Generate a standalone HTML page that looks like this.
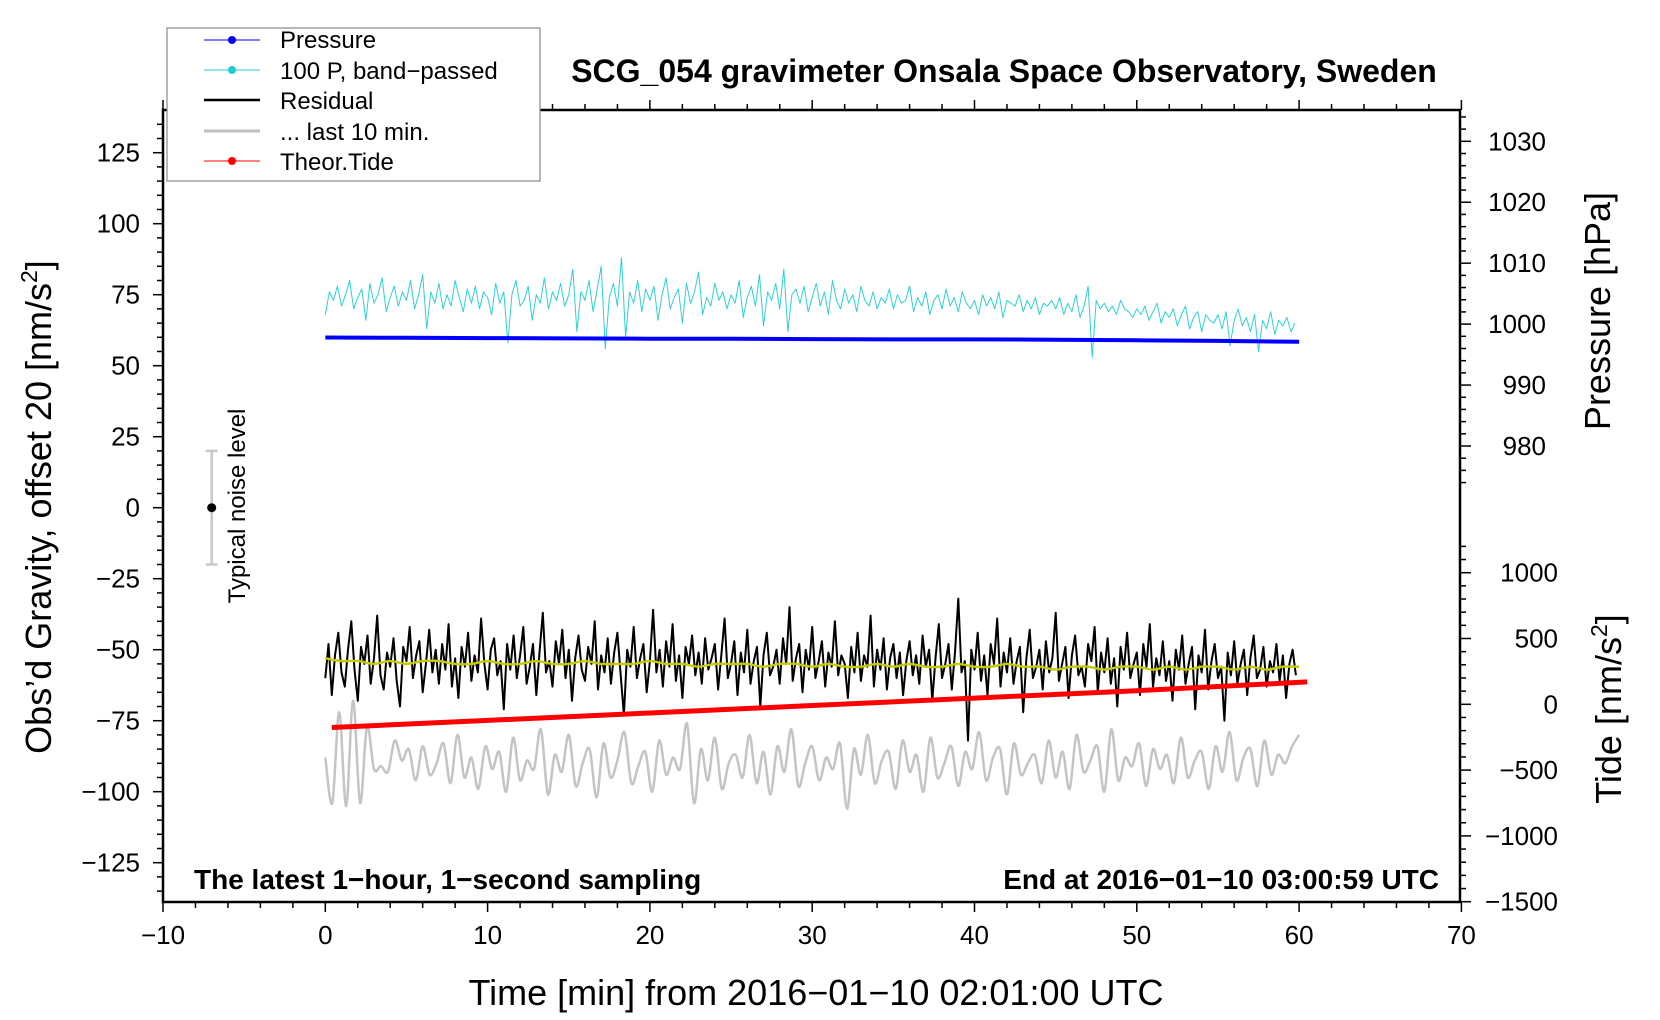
<!DOCTYPE html>
<html><head><meta charset="utf-8"><style>
html,body{margin:0;padding:0;background:#fff;}
svg{display:block;font-family:"Liberation Sans",Arial,sans-serif;}
</style></head><body>
<svg id="chart" width="1660" height="1020" viewBox="0 0 1660 1020" xmlns="http://www.w3.org/2000/svg">
<rect x="0" y="0" width="1660" height="1020" fill="#fff"/>
<g id="plot"></g>
<g id="axes"></g>
<text x="1004" y="82" font-size="32" font-weight="bold" text-anchor="middle">SCG_054 gravimeter Onsala Space Observatory, Sweden</text>
<text x="194" y="889" font-size="28" font-weight="bold">The latest 1−hour, 1−second sampling</text>
<text x="1439" y="889" font-size="28" font-weight="bold" text-anchor="end">End at 2016−01−10 03:00:59 UTC</text>
<text x="816" y="1005" font-size="36" text-anchor="middle">Time [min] from 2016−01−10 02:01:00 UTC</text>
<text transform="translate(51,507) rotate(-90)" font-size="36" text-anchor="middle">Obs’d Gravity, offset 20 [nm/s<tspan font-size="23" dy="-14">2</tspan><tspan dy="14">]</tspan></text>
<text transform="translate(1610,311) rotate(-90)" font-size="36" text-anchor="middle">Pressure [hPa]</text>
<text transform="translate(1621,709) rotate(-90)" font-size="36" text-anchor="middle">Tide [nm/s<tspan font-size="23" dy="-14">2</tspan><tspan dy="14">]</tspan></text>
<g>
<text transform="translate(245,506) rotate(-90)" font-size="24" text-anchor="middle">Typical noise level</text>
</g>
<g id="legend">
<rect x="167" y="28" width="373" height="153" fill="#fff" stroke="#888" stroke-width="1.2"/>
<g><line x1="204" y1="40" x2="260" y2="40" stroke="#0000ff" stroke-width="1"/><circle cx="232" cy="40" r="4" fill="#0000ff"/><text x="280" y="48" font-size="24">Pressure</text></g>
<g><line x1="204" y1="70" x2="260" y2="70" stroke="#20cccc" stroke-width="1"/><circle cx="232" cy="70" r="4" fill="#20cccc"/><text x="280" y="79" font-size="24">100 P, band−passed</text></g>
<g><line x1="204" y1="100" x2="260" y2="100" stroke="#000" stroke-width="2.5"/><text x="280" y="109" font-size="24">Residual</text></g>
<g><line x1="204" y1="131" x2="260" y2="131" stroke="#c0c0c0" stroke-width="3"/><text x="280" y="140" font-size="24">... last 10 min.</text></g>
<g><line x1="204" y1="161" x2="260" y2="161" stroke="#ff0000" stroke-width="1"/><circle cx="232" cy="161" r="4" fill="#ff0000"/><text x="280" y="170" font-size="24">Theor.Tide</text></g>
</g>
</svg>
<script>
// ---- data ----
const xTicks = [-10,0,10,20,30,40,50,60,70];
const gravTicks = [125,100,75,50,25,0,-25,-50,-75,-100,-125];
const pressTicks = [1030,1020,1010,1000,990,980];
const tideTicks = [1000,500,0,-500,-1000,-1500];
const pressTimes = [0,5,10,15,20,25,30,35,40,45,50,55,60];
const pressValues = [997.8,997.75,997.7,997.65,997.6,997.6,997.55,997.5,997.5,997.45,997.35,997.25,997.1];
const tideTimes = [0.4,10,20,30,40,50,60.5];
const tideValues = [-176,-122,-66,-9,47,103,170];
const bandStep = 0.25;
const bandValues = [
68,76,73,78,71,75,80,70,74,77,66,79,72,75,81,69,74,78,71,76,
73,80,70,75,82,63,76,72,79,70,75,71,80,74,69,77,72,78,70,76,
74,68,79,72,76,58,75,80,71,73,78,66,75,72,81,70,76,73,79,71,
75,84,62,76,73,80,69,77,85,56,74,79,71,88,60,76,72,80,69,77,
73,78,66,75,81,70,74,77,65,79,72,76,83,68,74,71,79,73,76,70,
75,72,80,67,74,78,71,82,64,76,73,79,70,84,62,75,77,72,78,69,
74,79,71,76,68,80,73,70,77,72,75,69,78,73,71,76,70,74,72,77,
70,75,72,73,78,69,74,71,76,68,73,75,70,77,71,74,69,76,72,70,
73,68,75,71,74,70,76,67,73,72,71,75,69,73,70,74,68,72,71,73,
70,74,68,72,69,75,67,71,78,53,73,70,72,69,71,68,73,70,69,67,
70,68,71,66,69,72,65,69,67,70,64,68,71,63,67,69,62,68,66,65,
68,63,69,57,66,70,64,67,62,68,55,66,63,69,61,66,64,67,62,65];
const residStep = 0.2;
const residValues = [
-60,-48,-66,-52,-44,-58,-63,-50,-40,-57,-68,-49,-55,-45,-62,-53,-38,-59,-64,-51,
-56,-46,-61,-70,-49,-54,-42,-60,-52,-47,-65,-55,-43,-58,-50,-62,-48,-57,-41,-63,
-53,-67,-49,-56,-44,-61,-52,-58,-39,-55,-64,-50,-46,-59,-54,-71,-48,-57,-45,-60,
-52,-42,-62,-56,-48,-66,-51,-37,-58,-54,-63,-47,-55,-43,-60,-50,-68,-53,-45,-57,
-61,-49,-55,-40,-64,-52,-58,-46,-62,-51,-44,-59,-73,-50,-56,-42,-60,-53,-48,-65,
-54,-36,-58,-50,-63,-47,-56,-41,-61,-52,-67,-49,-55,-45,-59,-51,-62,-46,-57,-53,
-48,-64,-52,-39,-60,-55,-47,-66,-51,-58,-43,-62,-54,-49,-70,-52,-44,-59,-56,-50,
-62,-46,-55,-35,-61,-53,-48,-65,-50,-57,-42,-60,-54,-47,-63,-51,-56,-40,-59,-52,
-55,-67,-49,-58,-44,-61,-52,-56,-38,-63,-50,-57,-46,-64,-53,-48,-60,-51,-66,-54,
-47,-59,-52,-62,-45,-56,-50,-68,-53,-41,-60,-55,-48,-64,-51,-32,-58,-54,-82,-50,
-57,-44,-61,-52,-66,-48,-55,-39,-63,-51,-58,-46,-62,-54,-49,-72,-53,-43,-60,-56,
-50,-64,-47,-58,-53,-37,-61,-55,-49,-67,-52,-45,-59,-56,-63,-48,-54,-42,-65,-51,
-58,-46,-62,-53,-70,-49,-57,-44,-60,-55,-51,-66,-48,-56,-41,-63,-53,-59,-47,-61,
-54,-68,-50,-57,-45,-62,-55,-49,-71,-52,-58,-43,-64,-54,-48,-60,-56,-75,-51,-59,
-47,-62,-55,-50,-66,-53,-45,-60,-57,-49,-63,-54,-58,-48,-61,-52,-67,-55,-50,-59];
const smoothStep = 1;
const smoothValues = [-53,-54,-54,-55,-54,-55,-54,-54,-55,-55,-54,-55,-55,-54,-55,-55,-54,-55,-55,-55,-54,-55,-55,-56,-55,-55,-55,-56,-55,-55,-56,-55,-56,-56,-55,-56,-55,-56,-56,-55,-56,-56,-55,-56,-56,-57,-56,-56,-57,-56,-56,-57,-56,-57,-56,-56,-57,-56,-57,-56,-56];
const lastTenValues = [
-88,-104,-72,-105,-68,-104,-77,-92,-91,-93,-82,-89,-85,-96,-84,-94,-90,-83,-97,-80,
-95,-88,-99,-84,-92,-86,-100,-81,-96,-89,-92,-78,-101,-87,-93,-80,-98,-90,-85,-102,
-83,-95,-89,-79,-97,-91,-86,-100,-82,-94,-88,-92,-76,-104,-85,-96,-81,-99,-90,-87,
-95,-80,-97,-86,-101,-84,-93,-78,-98,-90,-84,-96,-88,-92,-83,-106,-85,-94,-80,-97,
-89,-86,-99,-82,-93,-87,-100,-81,-95,-90,-84,-98,-86,-92,-79,-96,-88,-85,-101,-83,
-94,-90,-87,-97,-82,-95,-86,-99,-80,-93,-89,-84,-100,-78,-96,-88,-91,-83,-98,-85,
-92,-87,-97,-81,-95,-89,-86,-99,-84,-93,-79,-96,-88,-85,-98,-82,-94,-87,-90,-84,-80];
const lastTenSpan = 60;
const noiseTime = -7;
const noiseCenter = 0;
const noiseHalf = 20;

// ---- scales ----
const L=163,R=1460,T=110,B=902;
function xs(t){return 325.3+t*16.23;}
function yg(v){return 507.7-v*2.84;}
function yp(p){return 141.3+(1030-p)*6.094;}
function yt(v){return 704.3-v*0.1316;}
const NS='http://www.w3.org/2000/svg';
function mk(tag,attrs,parent){const e=document.createElementNS(NS,tag);for(const k in attrs)e.setAttribute(k,attrs[k]);parent.appendChild(e);return e;}
const plot=document.getElementById('plot'), axes=document.getElementById('axes');
function poly(xsArr,ysArr,stroke,w,name,smooth){
  let d='M'+xsArr[0].toFixed(1)+' '+ysArr[0].toFixed(1);
  for(let i=1;i<xsArr.length;i++){
    if(smooth){
      const i0=Math.max(0,i-2),i1=i-1,i3=Math.min(xsArr.length-1,i+1);
      const c1x=xsArr[i1]+(xsArr[i]-xsArr[i0])/6,c1y=ysArr[i1]+(ysArr[i]-ysArr[i0])/6;
      const c2x=xsArr[i]-(xsArr[i3]-xsArr[i1])/6,c2y=ysArr[i]-(ysArr[i3]-ysArr[i1])/6;
      d+='C'+c1x.toFixed(1)+' '+c1y.toFixed(1)+' '+c2x.toFixed(1)+' '+c2y.toFixed(1)+' '+xsArr[i].toFixed(1)+' '+ysArr[i].toFixed(1);
    } else d+='L'+xsArr[i].toFixed(1)+' '+ysArr[i].toFixed(1);
  }
  const p=mk('path',{d:d,fill:'none',stroke:stroke,'stroke-width':w,'stroke-linejoin':'round'},plot);
  
  
  return p;
}
poly(bandValues.map((v,i)=>xs(i*bandStep)),bandValues.map(yg),'#30d0d0',1,'bandpassed-pressure-line',false);
poly(pressTimes.map(xs),pressValues.map(yp),'#0000ff',4,'pressure-line',false);
poly(lastTenValues.map((v,i)=>xs(i*lastTenSpan/(lastTenValues.length-1))),lastTenValues.map(yg),'#c4c4c4',2.5,'last-10-min-line',true);
poly(residValues.map((v,i)=>xs(i*residStep)),residValues.map(yg),'#000',2,'residual-line',false);
poly(smoothValues.map((v,i)=>xs(i*smoothStep)),smoothValues.map(yg),'#c8c800',2.4,'smoothed-residual-line',true);
poly(tideTimes.map(xs),tideValues.map(yt),'#ff0000',5,'theoretical-tide-line',false);
// noise bar
const nb=mk('g',{},plot);


const nx=xs(noiseTime);
mk('line',{x1:nx,x2:nx,y1:yg(noiseCenter+noiseHalf),y2:yg(noiseCenter-noiseHalf),stroke:'#c8c8c8','stroke-width':2.5},nb);
mk('line',{x1:nx-6,x2:nx+6,y1:yg(noiseCenter+noiseHalf),y2:yg(noiseCenter+noiseHalf),stroke:'#c8c8c8','stroke-width':2.5},nb);
mk('line',{x1:nx-6,x2:nx+6,y1:yg(noiseCenter-noiseHalf),y2:yg(noiseCenter-noiseHalf),stroke:'#c8c8c8','stroke-width':2.5},nb);
mk('circle',{cx:nx,cy:yg(noiseCenter),r:4.5,fill:'#000'},nb);

// ---- axes ----
const frame=mk('rect',{x:L,y:T,width:R-L,height:B-T,fill:'none',stroke:'#000','stroke-width':2.5},axes);


function tick(x1,y1,x2,y2,w){mk('line',{x1:x1,y1:y1,x2:x2,y2:y2,stroke:'#000','stroke-width':w||1.5},axes);}
for(let t=-10;t<=70;t+=2){const x=xs(t);const maj=(t%10===0);tick(x,B,x,B+(maj?10:6));tick(x,T,x,T-(maj?10:6));}
xTicks.forEach(t=>{const e=mk('text',{x:xs(t),y:B+42,'font-size':26,'text-anchor':'middle'},axes);e.textContent=String(t).replace('-','−');
 
 });
for(let v=-135;v<=135;v+=5){const y=yg(v);const maj=(v%25===0);tick(L,y,L-(maj?10:6),y);}
gravTicks.forEach(v=>{const e=mk('text',{x:L-23,y:yg(v)+9,'font-size':26,'text-anchor':'end'},axes);e.textContent=String(v).replace('-','−');
 
 });
for(let p=1034;p>=974;p-=2){const y=yp(p);if(y<T)continue;const maj=(p%10===0);tick(R,y,R+(maj?11:6),y);}
pressTicks.forEach(p=>{const e=mk('text',{x:1546,y:yp(p)+9,'font-size':26,'text-anchor':'end'},axes);e.textContent=String(p);
 
 });
for(let v=-1500;v<=1200;v+=100){const y=yt(v);const maj=(v%500===0);tick(R,y,R+(maj?11:6),y);}
tideTicks.forEach(v=>{const e=mk('text',{x:1558,y:yt(v)+9,'font-size':26,'text-anchor':'end'},axes);e.textContent=String(v).replace('-','−');
 
 });
</script>
</body></html>
